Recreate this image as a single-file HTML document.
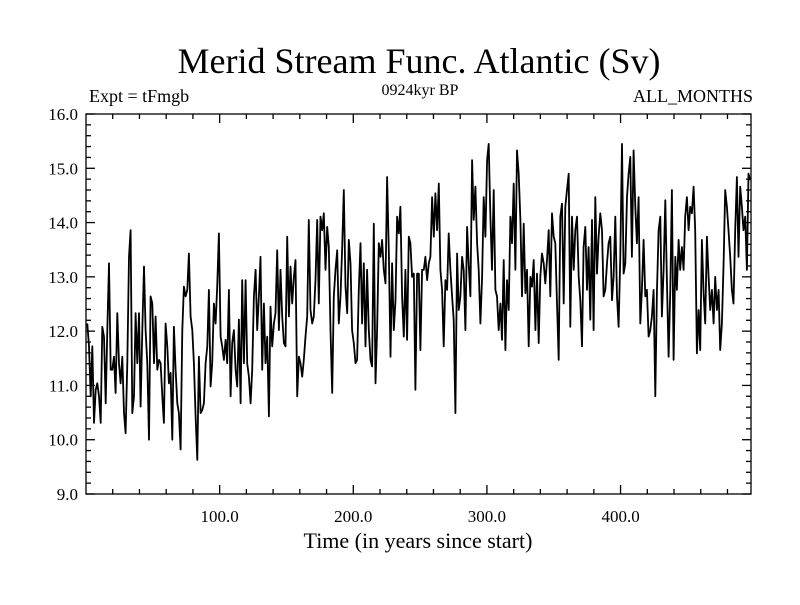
<!DOCTYPE html>
<html><head><meta charset="utf-8"><style>
body{margin:0;background:#fff;}
svg text{font-family:"Liberation Serif",serif;fill:#000;}
</style></head><body>
<svg id="chart" width="800" height="600" xmlns="http://www.w3.org/2000/svg">
<text x="419" y="73" font-size="36" text-anchor="middle">Merid Stream Func. Atlantic (Sv)</text>
<text x="89" y="102" font-size="18">Expt = tFmgb</text>
<text x="420" y="95" font-size="16" text-anchor="middle">0924kyr BP</text>
<text x="753" y="102" font-size="18" text-anchor="end">ALL_MONTHS</text>
<text x="418" y="548" font-size="22" text-anchor="middle">Time (in years since start)</text>
<g id="axes"></g>
<path id="series" fill="none" stroke="#000" stroke-width="1.8" stroke-linejoin="round"/>
</svg>
<script>
const xTicks=[100,200,300,400];
const xTickLabels=["100.0","200.0","300.0","400.0"];
const yTicks=[9,10,11,12,13,14,15,16];
const yTickLabels=["9.0","10.0","11.0","12.0","13.0","14.0","15.0","16.0"];
const yearStart=1, yearEnd=497;
const msf=[12.14,11.72,10.80,11.72,10.31,10.92,11.04,10.80,10.31,12.08,11.90,10.67,12.02,13.25,11.29,11.29,11.53,10.86,12.33,11.41,11.04,11.53,10.49,10.12,11.41,13.37,13.86,10.49,10.80,12.33,11.41,12.33,10.61,12.02,13.19,12.02,11.41,10.00,12.64,12.51,11.41,12.27,11.29,11.47,11.41,10.80,10.31,12.14,11.72,11.04,11.23,10.00,12.08,11.29,10.67,10.49,9.82,12.02,12.82,12.64,12.76,13.43,12.27,12.02,11.41,10.43,9.63,11.53,10.49,10.55,10.67,11.41,11.72,12.76,10.98,11.41,12.51,12.14,12.82,13.80,11.90,11.72,11.47,11.84,11.41,12.76,10.80,11.78,12.02,11.29,10.98,12.21,10.67,12.94,11.41,
12.94,11.41,11.16,10.67,11.29,12.64,13.13,12.02,12.64,13.37,11.29,12.51,11.41,11.90,10.43,12.45,11.72,12.14,12.33,13.49,12.02,13.13,12.27,11.78,11.72,13.74,12.27,13.19,12.51,13.00,13.31,10.80,11.53,11.41,11.16,11.47,11.90,12.27,14.05,12.39,12.14,12.27,12.94,14.05,12.51,14.11,13.86,14.17,13.13,13.92,13.55,12.02,10.86,12.64,13.13,13.49,12.14,12.64,13.55,14.60,12.82,12.33,13.68,13.25,12.02,11.78,11.41,11.47,12.76,13.62,12.14,13.25,11.72,13.13,12.02,11.47,11.35,13.98,11.04,12.02,13.62,13.37,13.68,13.13,12.88,14.84,13.49,11.53,13.25,12.02,12.57,14.11,13.80,14.29,12.64,11.90,13.13,11.84,13.74,13.62,13.00,13.06,10.92,13.06,
13.06,11.65,13.13,13.13,13.37,12.94,13.25,13.37,14.47,13.74,14.54,13.86,14.72,13.13,12.76,11.72,12.94,12.76,13.80,13.13,12.64,12.21,10.49,13.43,12.39,12.64,13.37,13.13,12.02,13.92,13.25,12.64,15.15,14.05,14.66,13.62,13.13,12.14,13.00,14.47,13.74,15.15,15.45,14.11,13.13,14.60,12.76,12.64,12.02,12.51,11.84,13.31,11.65,12.94,12.39,14.11,13.62,14.72,13.13,15.33,14.90,14.05,12.64,13.98,12.70,13.13,11.72,13.00,12.82,13.31,12.02,13.06,11.78,13.00,13.43,13.25,12.88,13.31,13.86,12.64,14.17,13.74,13.62,12.51,11.47,14.11,14.35,12.51,14.29,14.60,14.90,12.08,14.11,13.13,13.86,14.11,13.00,12.57,11.72,13.55,
13.92,12.76,13.55,12.21,14.05,12.02,14.47,13.06,13.74,14.17,13.86,12.64,12.76,13.25,13.62,13.74,12.57,13.00,14.11,12.64,12.08,13.37,15.45,13.06,13.25,14.47,14.90,15.21,13.37,15.33,14.29,13.62,14.47,12.14,12.76,13.68,12.64,12.76,11.90,12.02,12.27,12.76,10.80,12.70,13.86,14.11,12.27,13.13,14.41,12.94,11.53,12.76,14.60,11.47,13.37,12.76,13.68,13.13,13.55,13.13,14.11,14.47,13.86,14.29,14.17,14.66,13.86,11.59,12.39,11.65,13.68,12.70,12.14,13.74,13.00,12.39,12.76,12.14,13.00,12.39,12.76,11.65,12.14,13.25,14.60,14.29,13.86,13.37,12.76,12.51,13.86,14.84,13.37,14.66,14.29,13.86,14.11,13.13,14.90,14.78];

const L=86,R=751,T=114,B=494;
const xMin=0,xMax=497.6,yMin=9,yMax=16;
function xs(v){return L+(v-xMin)/(xMax-xMin)*(R-L);}
function ys(v){return B-(v-yMin)/(yMax-yMin)*(B-T);}
const NS="http://www.w3.org/2000/svg";
const ax=document.getElementById('axes');
function line(x1,y1,x2,y2,name){
  const l=document.createElementNS(NS,'line');
  l.setAttribute('x1',x1);l.setAttribute('y1',y1);l.setAttribute('x2',x2);l.setAttribute('y2',y2);
  l.setAttribute('stroke','#000');l.setAttribute('stroke-width','1.3');
  
  
  ax.appendChild(l);
}
function text(x,y,s,anchor,name){
  const t=document.createElementNS(NS,'text');
  t.setAttribute('x',x);t.setAttribute('y',y);t.setAttribute('font-size','17');t.setAttribute('text-anchor',anchor);
  t.textContent=s;
  
  
  ax.appendChild(t);
}
const fr=document.createElementNS(NS,'rect');
fr.setAttribute('x',L);fr.setAttribute('y',T);fr.setAttribute('width',R-L);fr.setAttribute('height',B-T);
fr.setAttribute('fill','none');fr.setAttribute('stroke','#000');fr.setAttribute('stroke-width','1.3');


ax.appendChild(fr);
for(let v=yMin;v<=yMax+1e-9;v+=0.2){
  const major=Math.abs(v-Math.round(v))<1e-6;
  const len=major?9:5;const y=ys(v);
  line(L,y,L+len,y,'y-tick');line(R,y,R-len,y,'y-tick-right');
}
yTicks.forEach((v,i)=>text(78,ys(v)+6,yTickLabels[i],'end','y-tick-label'));
for(let v=20;v<xMax;v+=20){
  const major=v%100===0;const len=major?9:5;const x=xs(v);
  line(x,B,x,B-len,'x-tick');line(x,T,x,T+len,'x-tick-top');
}
xTicks.forEach((v,i)=>text(xs(v),522,xTickLabels[i],'middle','x-tick-label'));
const n=msf.length;
let d='';
msf.forEach((v,i)=>{const yr=yearStart+i*(yearEnd-yearStart)/(n-1);d+=(i?'L':'M')+xs(yr).toFixed(1)+' '+ys(v).toFixed(1);});
document.getElementById('series').setAttribute('d',d);
</script>
</body></html>
